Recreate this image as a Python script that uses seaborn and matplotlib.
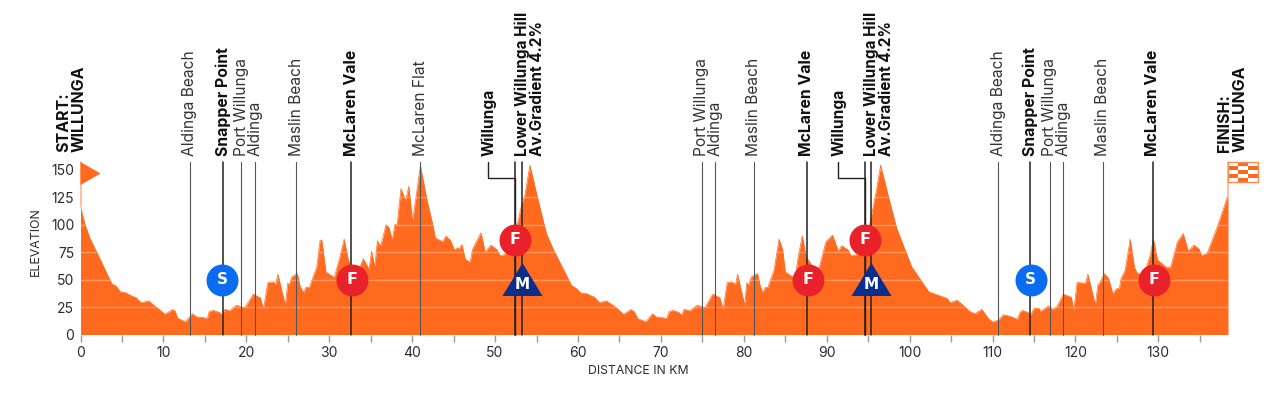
import numpy as np
import pandas as pd
import matplotlib
matplotlib.use("Agg")
import matplotlib.pyplot as plt
from matplotlib.patches import Polygon
import seaborn as sns

km = [0,.55,1.15,2.35,3.75,4.3,4.8,5.5,6.2,6.7,7.3,8.2,9.2,10.2,11.1,11.4,11.7,12.65,13.5,14,14.8,15.3,15.5,16,16.8,17.1,17.4,18,18.8,19.8,20.85,21.45,21.7,22.05,22.6,23.3,23.55,23.8,24.7,25,25.15,25.5,26.15,26.5,26.9,27.2,27.6,28.5,28.9,29.1,29.6,30.6,31.3,31.8,32.3,32.6,33.5,34.1,34.8,35.1,35.5,35.8,36.2,36.85,37.2,37.6,37.9,38.2,38.65,39.2,39.6,40.05,41,41.8,42.4,42.8,43.7,44.05,44.6,45.1,45.4,45.7,46,46.4,47,47.3,48.3,48.8,49.5,50.2,50.6,51.1,52,52.7,53.2,53.6,54.2,55,55.6,56.2,57,59.2,59.8,60.3,61,62,62.6,63.4,64.4,65.5,66.4,66.8,67.2,
      68.2,69,69.45,70.1,70.7,71,71.5,72.2,72.5,72.8,73.5,74.4,75.3,76.25,77.1,77.5,78,78.55,79,79.25,80.1,80.35,80.6,80.9,81.65,82,82.3,82.6,82.9,83.65,84.25,84.7,85,86.2,86.5,87.05,87.5,88.3,89.1,89.9,90.7,91.4,91.8,92.6,92.9,93.6,94.5,95.2,96,96.5,97.45,98.45,100.25,102.3,104.5,104.9,105.7,106.1,107.3,107.9,108.7,109.5,110,110.7,111.3,112.1,113,113.3,113.6,114.3,114.6,115,115.6,115.8,116.75,117.25,117.75,118.55,119.5,119.8,120.2,120.9,121.2,121.5,122.4,122.7,123,123.5,124,124.5,125,125.3,125.5,126,126.6,127.1,127.4,128.2,129,129.4,129.9,131,131.5,132.3,133,133.6,134.3,134.9,135.2,135.9,137.2,138.4]
elevation = [116,100,87.5,69,46.5,44,39,38,35,33.7,29,30.7,24.6,18.5,22.8,21.5,15,11.5,19,16,15.5,14.6,20.7,22,20,17.6,23,21.6,26.7,24.3,36.8,34.3,33.7,22.8,47.4,48,45.6,55,26.7,47,45,52.6,55.6,43.5,38.3,43,43,61.7,86,86,57,52,71,87,68,63,58,69,59.6,76,61.7,85.4,80.5,100,97.6,86,100,101,133,122,135,103,154,122,103,88,84.5,89.7,86,77,79,78,82,68.7,66,78,92.7,75,81.5,77.5,72,72.6,80,101,118,127,154.4,128.6,110,92,78,45,42,38,37.4,34,29,30.7,25.8,18.5,22.8,20.7,14.6,
             11.5,19,16,15.5,14.6,21,22,20,17.6,23,21.6,26.7,24.3,36.8,33.7,22.8,47.4,48,45.6,55,26.7,47,45,52.6,55.6,43.5,38.3,43,43,58.7,87,77,57,51,68,90,71,62,61,84.5,90.6,76,81,77,72,72.6,80,101,131.6,154.4,125.5,96.6,61.7,39,33,29,31.3,29,20.7,19,23,14.6,11.5,13,18,16.7,14,20,22,20,18,23.7,23.7,21,26,23,25,36.8,34,22,47.4,47,46.5,55,26.7,45,48,55.6,51,37.4,42,42,51,58.7,87,61.7,56.5,53,72,87,68,61,61.7,84.5,92,76,81.5,78,72,74,100,127]

place_km = [13.2,17.2,19.4,21.05,26,32.65,41,52.4,53.3,74.9,76.5,81.2,87.6,94.6,95.4,110.7,114.5,116.9,118.5,123.3,129.3]
place_names = ["Aldinga Beach","Snapper Point","Port Willunga","Aldinga","Maslin Beach","McLaren Vale","McLaren Flat","Willunga","Lower Willunga Hill\nAv.Gradient 4.2%","Port Willunga","Aldinga","Maslin Beach","McLaren Vale","Willunga","Lower Willunga Hill\nAv.Gradient 4.2%","Aldinga Beach","Snapper Point","Port Willunga","Aldinga","Maslin Beach","McLaren Vale"]
place_bold = [0,1,0,0,0,1,0,1,1,0,0,0,1,1,1,0,1,0,0,0,1]
sprint_km = [17.1,114.6]
sprint_el = [50,50]
feed_km = [32.8,52.4,87.7,94.6,129.5]
feed_el = [50,86.5,50,86.5,50]
kom_km = [53.3,95.4]
kom_el = [51,51]
x_major = [0,10,20,30,40,50,60,70,80,90,100,110,120,130]
x_minor = [5,15,25,35,45,55,65,75,85,95,105,115,125,135]
y_ticks = [0,25,50,75,100,125,150]

ORANGE = "#FF6A1F"
INK = "#2b2b2b"
sns.set_theme(style="white")
plt.rcParams["font.family"] = ["Inter", "DejaVu Sans"]

fig = plt.figure(figsize=(12.8, 3.93), dpi=100)
L, R, B, T = 80.5, 1228, 334.5, 162
ax = fig.add_axes([L/1280, 1-B/393, (R-L)/1280, (B-T)/393])
df = pd.DataFrame({"km": km, "elevation": elevation})
ax.fill_between(df.km, 0, df.elevation, color=ORANGE, lw=0, zorder=1)
sns.lineplot(data=df, x="km", y="elevation", color=ORANGE, lw=0.5, ax=ax, zorder=1)
ax.set_xlim(0, 138.4)
top = (B-T)/1.097
ax.set_ylim(0, top)
for s in ax.spines.values():
    s.set_visible(False)

clip = Polygon(np.column_stack([[0]+km+[km[-1]], [0]+elevation+[0]]), transform=ax.transData)
for y in y_ticks[1:]:
    ln = ax.axhline(y, color="#FF9A63", lw=1.0, zorder=2)
    ln.set_clip_path(clip)

ax.set_xticks(x_major)
ax.set_xticks(x_minor, minor=True)
ax.set_yticks(y_ticks)
ax.tick_params(axis="x", which="major", length=5, width=1, color="#999999", labelsize=10, labelcolor=INK, pad=3.5, bottom=True)
ax.tick_params(axis="x", which="minor", length=5, width=1, color="#999999", bottom=True)
ax.tick_params(axis="y", length=0, labelsize=10, labelcolor=INK, pad=4.5)
ax.set_xlabel("DISTANCE IN KM", fontsize=8.8, color=INK)
ax.set_ylabel("ELEVATION", fontsize=8.9, color=INK)
ax.xaxis.set_label_coords(0.486, -0.178)
ax.yaxis.set_label_coords(-0.0335, 0.54)

for k, name, bold in zip(place_km, place_names, place_bold):
    ax.plot([k, k], [0, top], color="#222222" if bold else "#555555", lw=1.1 if bold else 0.8, zorder=3, clip_on=False)
    if name == "Willunga":
        continue
    two_line = "\n" in name
    size = 11 if two_line else (11.4 if bold else 11.2)
    ax.annotate(name, (k, top), xytext=(5.5 if two_line else 0, 4.5), textcoords="offset points", rotation=90, ha="center", va="bottom",
                fontsize=size, color="#111111" if bold else "#333333", fontweight="bold" if bold else "normal", linespacing=1.0, multialignment="left")

# Willunga leader labels
for k, dx in [(52.4, -3.2), (94.6, -3.2)]:
    ax.plot([k+dx, k+dx, k, k], [top, top-14.5, top-14.5, 0], color="#222222", lw=1.0, zorder=3, clip_on=False)
    ax.annotate("Willunga", (k+dx, top), xytext=(0.5, 4.5), textcoords="offset points", rotation=90, ha="center", va="bottom",
                fontsize=11.2, color="#111111", fontweight="bold")

# start / finish
ax.annotate("START:\nWILLUNGA", (0, top), xytext=(-6.5, 7), textcoords="offset points", rotation=90, ha="center", va="bottom",
            fontsize=11.5, fontweight="bold", color="#111111", linespacing=1.0, multialignment="left")
ax.annotate("FINISH:\nWILLUNGA", (138.4, top), xytext=(3, 7), textcoords="offset points", rotation=90, ha="center", va="bottom",
            fontsize=11.5, fontweight="bold", color="#111111", linespacing=1.0, multialignment="left")
ax.plot([0, 0], [elevation[0], top], color="#FFB48C", lw=1.2, zorder=3, clip_on=False)
ax.plot([138.4, 138.4], [elevation[-1], top], color="#FFB48C", lw=1.2, zorder=3, clip_on=False)
ax.add_patch(Polygon([(0, top), (20/8.29, top-11.5/1.097), (0, top-23/1.097)], closed=True, color=ORANGE, lw=0, zorder=4, clip_on=False))

# finish flag chequers
cols, rows = 3, 5
fw, fh = 30/8.29, 20/1.097
for r in range(rows):
    for c in range(cols):
        col = ORANGE if (r + c) % 2 == 1 else "white"
        ax.add_patch(plt.Rectangle((138.4 + c*fw/cols, top - (r+1)*fh/rows), fw/cols, fh/rows, color=col, lw=0, clip_on=False, zorder=4))
ax.add_patch(plt.Rectangle((138.4, top-fh), fw, fh, fill=False, ec="#FF8A4F", lw=1, clip_on=False, zorder=5))

# markers
ax.scatter(sprint_km, sprint_el, s=530, color="#0A6CF0", lw=0, zorder=6, clip_on=False)
ax.scatter(feed_km, feed_el, s=530, color="#E8212B", lw=0, zorder=6, clip_on=False)
tri = [(0,16.5),(-20,-16.5),(20,-16.5)]
ax.scatter(kom_km, kom_el, marker=tri, s=830, color="#0B2D8C", lw=0, zorder=7, clip_on=False)
for k, e in zip(sprint_km, sprint_el):
    ax.text(k, e, "S", color="white", fontsize=11, fontweight="bold", ha="center", va="center", zorder=8, family="DejaVu Sans")
for k, e in zip(feed_km, feed_el):
    ax.text(k, e, "F", color="white", fontsize=11.5, fontweight="bold", ha="center", va="center", zorder=8, family="DejaVu Sans")
for k, e in zip(kom_km, kom_el):
    ax.text(k, e-5.5, "M", color="white", fontsize=11, fontweight="bold", ha="center", va="center", zorder=8, family="DejaVu Sans")

fig.savefig("out.png", dpi=100)
